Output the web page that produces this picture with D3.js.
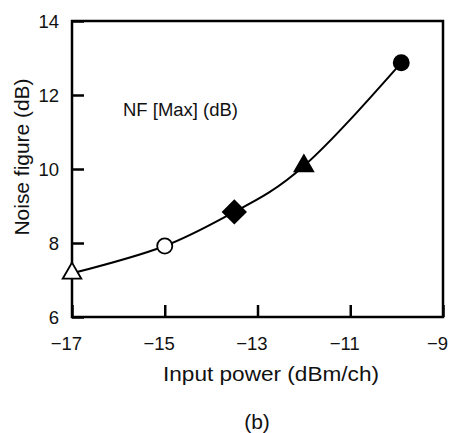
<!DOCTYPE html>
<html>
<head>
<meta charset="utf-8">
<script src="https://cdn.jsdelivr.net/npm/d3@7"></script>
<style>
  body { margin: 0; background: #fff; }
  svg text { font-family: "Liberation Sans", Arial, Helvetica, sans-serif; fill: #111; }
</style>
</head>
<body>
<svg id="chart" width="451" height="433"></svg>
<script>
// data
var power = [-17, -15, -13.5, -12, -9.9];
var nf = [7.18, 7.92, 8.84, 10.08, 12.87];
var markers = ['triOpen', 'circOpen', 'diamond', 'triFill', 'circFill'];
var xTicks = [-17, -15, -13, -11, -9];
var yTicks = [6, 8, 10, 12, 14];

var svg = d3.select('#chart');
var pLeft = 72, pRight = 443, pTop = 21, pBottom = 317;

var x = d3.scaleLinear().domain([-17, -9]).range([pLeft, pRight]);
var y = d3.scaleLinear().domain([6, 14]).range([pBottom, pTop]);

// frame
svg.append('rect')
  .attr('x', pLeft).attr('y', pTop)
  .attr('width', pRight - pLeft).attr('height', pBottom - pTop)
  .attr('fill', 'none').attr('stroke', '#000').attr('stroke-width', 2.5);

// inward ticks, labels drawn separately so the minus can hang
var xAxis = d3.axisBottom(x).tickValues(xTicks).tickSize(-12).tickFormat('');
svg.append('g').attr('transform', 'translate(0,' + pBottom + ')').call(xAxis)
  .call(g => { g.select('.domain').remove(); g.selectAll('line').attr('stroke-width', 2.5); });

var yAxis = d3.axisLeft(y).tickValues(yTicks).tickSize(-12).tickFormat('');
svg.append('g').attr('transform', 'translate(' + pLeft + ',0)').call(yAxis)
  .call(g => { g.select('.domain').remove(); g.selectAll('line').attr('stroke-width', 2.5); });

svg.selectAll('.xl').data(xTicks).enter().append('text')
  .attr('x', d => x(d)).attr('y', 350)
  .attr('dx', '-0.3em')
  .attr('text-anchor', 'middle').style('font-size', '18.5px')
  .text(d => '\u2212' + Math.abs(d));

svg.selectAll('.yl').data(yTicks).enter().append('text')
  .attr('x', 59).attr('y', d => y(d)).attr('dy', '0.36em')
  .attr('text-anchor', 'end').style('font-size', '18.5px')
  .text(d => d);

// titles
svg.append('text').attr('x', 271).attr('y', 381)
  .attr('text-anchor', 'middle').style('font-size', '21px')
  .attr('textLength', 216).attr('lengthAdjust', 'spacingAndGlyphs')
  .text('Input power (dBm/ch)');
svg.append('text')
  .attr('transform', 'translate(29,157) rotate(-90)')
  .attr('text-anchor', 'middle').style('font-size', '21px')
  .attr('textLength', 157).attr('lengthAdjust', 'spacingAndGlyphs')
  .text('Noise figure (dB)');
svg.append('text').attr('x', 123).attr('y', 116)
  .style('font-size', '18.5px').attr('textLength', 115).attr('lengthAdjust', 'spacingAndGlyphs')
  .text('NF [Max] (dB)');
svg.append('text').attr('x', 257).attr('y', 429)
  .attr('text-anchor', 'middle').style('font-size', '21px').text('(b)');

// curve
var pts = power.map((p, i) => [p, nf[i]]);
var line = d3.line().x(d => x(d[0])).y(d => y(d[1])).curve(d3.curveNatural);
svg.append('path').attr('d', line(pts))
  .attr('fill', 'none').attr('stroke', '#000').attr('stroke-width', 2);

// markers
var sym = {
  triOpen: d3.symbol().type(d3.symbolTriangle).size(150)(),
  triFill: d3.symbol().type(d3.symbolTriangle).size(150)(),
  circOpen: d3.symbol().type(d3.symbolCircle).size(180)(),
  circFill: d3.symbol().type(d3.symbolCircle).size(180)(),
  diamond: d3.symbol().type(d3.symbolSquare).size(260)()
};
svg.selectAll('.mk').data(pts).enter().append('path')
  .attr('d', (d, i) => sym[markers[i]])
  .attr('transform', (d, i) => 'translate(' + x(d[0]) + ',' + y(d[1]) + ')' + (markers[i] == 'diamond' ? ' rotate(45)' : ''))
  .attr('fill', (d, i) => markers[i].indexOf('Open') > 0 ? '#fff' : '#000')
  .attr('stroke', '#000').attr('stroke-width', 1.8);
</script>
</body>
</html>
